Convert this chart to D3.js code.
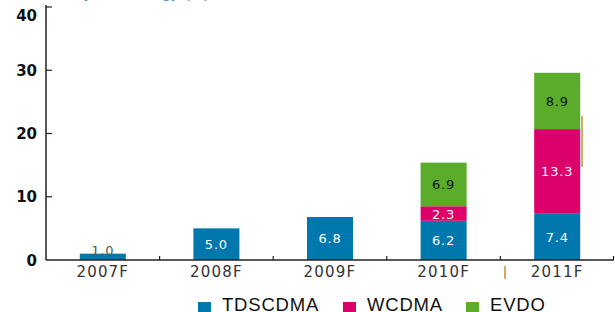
<!DOCTYPE html>
<html>
<head>
<meta charset="utf-8">
<script src="https://cdn.jsdelivr.net/npm/d3@7"></script>
<style>
  html, body { margin: 0; padding: 0; background: #fff; }
  svg { display: block; }
</style>
</head>
<body>
<div id="chart"></div>
<script>
const years = ["2007F", "2008F", "2009F", "2010F", "2011F"];
const seriesNames = ["TDSCDMA", "WCDMA", "EVDO"];
const tdscdma = [1.0, 5.0, 6.8, 6.2, 7.4];
const wcdma = [0, 0, 0, 2.3, 13.3];
const evdo = [0, 0, 0, 6.9, 8.9];
const yTicks = [0, 10, 20, 30, 40];
const colors = ["#0077ad", "#dc006b", "#5aac2a"];

const width = 615, height = 312;
const margin = { top: 7, right: 1, bottom: 52, left: 46 };

const rows = years.map((y, i) => ({ year: y, TDSCDMA: tdscdma[i], WCDMA: wcdma[i], EVDO: evdo[i] }));
const stacked = d3.stack().keys(seriesNames)(rows);

const x = d3.scaleBand()
  .domain(years)
  .range([margin.left, width - margin.right])
  .paddingInner(0.595)
  .paddingOuter(0.2975);

const y = d3.scaleLinear()
  .domain([0, 40])
  .range([height - margin.bottom, margin.top]);

const svg = d3.select("#chart").append("svg")
  .attr("width", width)
  .attr("height", height);

// title, mostly cut off at the top edge
svg.append("text")
  .attr("x", -20)
  .attr("y", -2)
  .attr("fill", "#5b9bd5")
  .attr("font-family", "Liberation Sans, Arial, sans-serif")
  .attr("font-size", 17)
  .text("Subscribers by technology (m)");

// bars
const layers = svg.selectAll("g.layer").data(stacked)
  .join("g")
  .classed("layer", true)
  .attr("fill", (d, i) => colors[i]);

layers.selectAll("rect").data(d => d.filter(s => s[1] - s[0] > 0))
  .join("rect")
  .attr("x", d => x(d.data.year))
  .attr("y", d => y(d[1]))
  .attr("width", x.bandwidth())
  .attr("height", d => y(d[0]) - y(d[1]));

// value labels
stacked.forEach((layer, li) => {
  svg.append("g").selectAll("text").data(layer.filter(s => s[1] - s[0] > 0))
    .join("text")
    .attr("x", d => x(d.data.year) + x.bandwidth() / 2)
    .attr("y", d => {
      const h = y(d[0]) - y(d[1]);
      return h < 10 ? y(d[1]) + 1 : (y(d[0]) + y(d[1])) / 2 + 5;
    })
    .attr("text-anchor", "middle")
    .attr("font-family", "DejaVu Sans, Verdana, sans-serif")
    .attr("font-size", 13)
    .attr("letter-spacing", 0.8)
    .attr("fill", d => {
      const h = y(d[0]) - y(d[1]);
      if (h < 10) return "#555";
      return li === 2 ? "#111" : "#fff";
    })
    .text(d => (d[1] - d[0]).toFixed(1));
});

// x axis
const x0 = margin.left, x1 = width - margin.right, yBase = y(0);
svg.append("line")
  .attr("x1", x0).attr("x2", x1).attr("y1", yBase).attr("y2", yBase)
  .attr("stroke", "#222").attr("stroke-width", 1.5);

const bounds = years.slice(1).map(c => x(c) - x.step() * x.paddingInner() / 2).concat([x1 - 0.5]);
svg.append("g").selectAll("line").data(bounds)
  .join("line")
  .attr("x1", d => d).attr("x2", d => d)
  .attr("y1", yBase).attr("y2", yBase - 4)
  .attr("stroke", "#222").attr("stroke-width", 1.2);

svg.append("g").selectAll("text").data(years)
  .join("text")
  .attr("x", d => x(d) + x.bandwidth() / 2)
  .attr("y", yBase + 17)
  .attr("text-anchor", "middle")
  .attr("font-family", "DejaVu Sans, Verdana, sans-serif")
  .attr("font-size", 15)
  .attr("letter-spacing", 1.2)
  .attr("fill", "#333")
  .text(d => d);

// y axis
svg.append("line")
  .attr("x1", x0).attr("x2", x0).attr("y1", y(40) - 2).attr("y2", yBase)
  .attr("stroke", "#222").attr("stroke-width", 1.5);

svg.append("g").selectAll("line").data(yTicks.slice(1))
  .join("line")
  .attr("x1", x0).attr("x2", x0 + 6)
  .attr("y1", d => y(d)).attr("y2", d => y(d))
  .attr("stroke", "#222").attr("stroke-width", 1.2);

svg.append("g").selectAll("text").data(yTicks)
  .join("text")
  .attr("x", 37)
  .attr("y", d => Math.max(y(d), 15) + 5.5)
  .attr("text-anchor", "end")
  .attr("font-family", "DejaVu Sans, Verdana, sans-serif")
  .attr("font-weight", "bold")
  .attr("font-size", 15)
  .attr("fill", "#111")
  .text(d => d);

// stray marks in the original image
svg.append("line")
  .attr("x1", 505).attr("x2", 505).attr("y1", 266).attr("y2", 279)
  .attr("stroke", "#c07a10").attr("stroke-width", 1.3);
svg.append("line")
  .attr("x1", 582).attr("x2", 582).attr("y1", 116).attr("y2", 167)
  .attr("stroke", "#c07a10").attr("stroke-width", 1.3);

// legend
const legendX = [198, 343, 466];
const legend = svg.append("g").selectAll("g").data(seriesNames)
  .join("g")
  .attr("transform", (d, i) => `translate(${legendX[i]}, 0)`);

legend.append("rect")
  .attr("x", 0).attr("y", 302)
  .attr("width", 13).attr("height", 13)
  .attr("fill", (d, i) => colors[i]);

legend.append("text")
  .attr("x", 24)
  .attr("y", 311)
  .attr("font-family", "Liberation Sans, Arial, sans-serif")
  .attr("font-size", 18.5)
  .attr("letter-spacing", 0.8)
  .attr("fill", "#111")
  .text(d => d);
</script>
</body>
</html>
